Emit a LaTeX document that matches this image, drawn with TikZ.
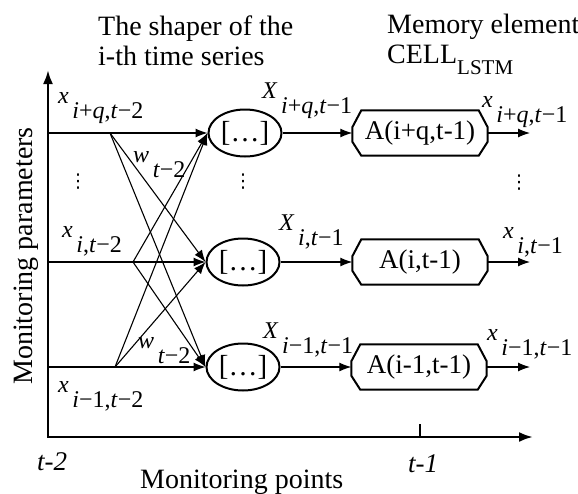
\documentclass[tikz,border=0pt]{standalone}
\usepackage{fontspec}
\setmainfont{Liberation Serif}
\newfontfamily\dotsfont{DejaVu Sans}
\usetikzlibrary{arrows.meta,shapes.geometric,positioning}

\newcommand{\vsub}[2]{\textit{#1}\kern.15em\raisebox{-.64em}{#2}}
\newcommand{\mi}[1]{\textit{#1}}

\tikzset{
  shaper/.style={ellipse, draw, line width=2pt, minimum width=73pt,
    minimum height=47pt, inner sep=0pt, font=\fontsize{29}{30}\selectfont},
  cell/.style={rectangle, minimum width=135pt, minimum height=45pt,
    inner sep=0pt, font=\fontsize{27}{28}\selectfont},
  cellline/.style={line width=2pt},
  link/.style={line width=1.1pt, -{Latex[length=12pt,width=9pt]}},
  axis/.style={line width=2.5pt, {Latex[length=14pt,width=10pt]}-{Latex[length=14pt,width=10pt]}},
  lbl/.style={anchor=base west, inner sep=0pt, font=\fontsize{24}{26}\selectfont},
  vdot/.style={inner sep=0pt, font=\dotsfont\fontsize{19}{20}\selectfont},
  title/.style={anchor=north west, inner sep=0pt, align=left,
    font=\fontsize{28}{30}\selectfont}
}

\begin{document}
\begin{tikzpicture}[x=1pt, y=-1pt]
\useasboundingbox (0,0) rectangle (578,493);

% axes
\coordinate (O) at (48,437);
\coordinate (ytop) at (48,70);
\coordinate (xend) at (533,437);
\draw[axis] (ytop) -- (O) -- (xend);
\coordinate (tk) at (420,424);
\draw[line width=1.5pt] (tk) -- (tk |- O);

% shapers and cells
\node[shaper] (s1) at (245,133) {[…]};
\node[shaper] (s2) at (243,262) {[…]};
\node[shaper] (s3) at (243,367) {[…]};
\node[cell] (c1) at (420,133) {A(i+q,t-1)};
\node[cell] (c2) at (420,262) {A(i,t-1)};
\node[cell] (c3) at (419,367) {A(i-1,t-1)};
\foreach \c in {c1,c2,c3}
  \draw[cellline] ([xshift=9pt]\c.north west) -- ([xshift=-9pt]\c.north east)
    -- ([yshift=-17pt]\c.north east) -- ([yshift=14pt]\c.south east)
    -- ([xshift=-9pt]\c.south east) -- ([xshift=9pt]\c.south west)
    -- ([yshift=14pt]\c.south west) -- ([yshift=-17pt]\c.north west) -- cycle;

% inputs
\coordinate (a1) at (O |- s1);
\coordinate (a2) at (O |- s2);
\coordinate (a3) at (O |- s3);
\coordinate (b1) at (110,133);
\coordinate (b2) at (133,262);
\coordinate (b3) at (115,367);
\draw[link] (a1) -- (s1.west);
\draw[link] (a2) -- (s2.west);
\draw[link] (a3) -- (s3.west);
\draw[link] (b1) -- (s2.west);
\draw[link] (b1) -- (s3.west);
\draw[link] (b2) -- (s1.west);
\draw[link] (b2) -- (s3.west);
\draw[link] (b3) -- (s1.west);
\draw[link] (b3) -- (s2.west);

% shaper -> cell -> output
\draw[link] (s1) -- (c1);
\draw[link] (s2) -- (c2);
\draw[link] (s3) -- (c3);
\coordinate (o1) at (530,133);
\coordinate (o2) at (530,262);
\coordinate (o3) at (530,367);
\draw[link] (c1) -- (o1);
\draw[link] (c2) -- (o2);
\draw[link] (c3) -- (o3);

% labels
\node[lbl] (lx1) at (58,103) {\vsub{x}{\mi{i}+\mi{q},\mi{t}−2}};
\node[lbl] (lx2) at (62,237) {\vsub{x}{\mi{i},\mi{t}−2}};
\node[lbl] (lx3) at (58,392) {\vsub{x}{\mi{i}−1,\mi{t}−2}};
\node[lbl] (lw1) at (133,162) {\vsub{w}{\mi{t}−2}};
\node[lbl] (lw2) at (138,348) {\vsub{w}{\mi{t}−2}};
\node[lbl] (lX1) at (262,98) {\vsub{X}{\mi{i}+\mi{q},\mi{t}−1}};
\node[lbl] (lX2) at (279,230) {\vsub{X}{\mi{i},\mi{t}−1}};
\node[lbl] (lX3) at (263,338) {\vsub{X}{\mi{i}−1,\mi{t}−1}};
\node[lbl] (ly1) at (482,107) {\vsub{x}{\mi{i}+\mi{q},\mi{t}−1}};
\node[lbl] (ly2) at (503,238) {\vsub{x}{\mi{i},\mi{t}−1}};
\node[lbl] (ly3) at (487,340) {\vsub{x}{\mi{i}−1,\mi{t}−1}};

% dots
\node[vdot] (d1) at (78,182) {⋮};
\node[vdot] (d2) at (243,182) {⋮};
\node[vdot] (d3) at (519,183) {⋮};

% titles and axis names
\node[title] (t1) at (98,16) {The shaper of the\\i-th time series};
\node[title] (t2) at (387,14) {Memory element\\CELL\raisebox{-.4em}{\fontsize{21}{22}\selectfont LSTM}};
\node[rotate=90, anchor=base, inner sep=0pt, font=\fontsize{28}{30}\selectfont]
  (ylab) at (32,256) {Monitoring parameters};
\node[anchor=base west, inner sep=0pt, font=\fontsize{28}{30}\selectfont]
  (xlab) at (140,488) {Monitoring points};
\node[anchor=base west, inner sep=0pt, font=\itshape\fontsize{27}{28}\selectfont]
  (p1) at (37,470) {t-2};
\node[anchor=base west, inner sep=0pt, font=\itshape\fontsize{27}{28}\selectfont]
  (p2) at (408,472) {t-1};
\end{tikzpicture}
\end{document}
